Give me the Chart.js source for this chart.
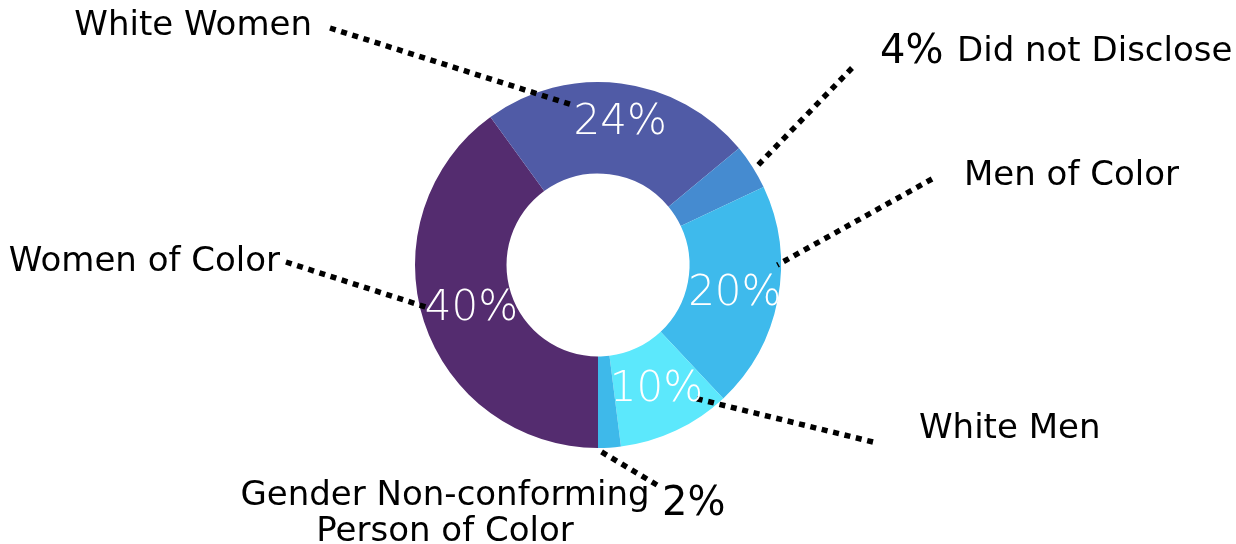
<!DOCTYPE html>
<html>
<head>
<meta charset="utf-8">
<script src="https://cdn.jsdelivr.net/npm/chart.js@4.4.1/dist/chart.umd.min.js"></script>
<style>
  html, body { margin: 0; padding: 0; background: #fff; }
</style>
</head>
<body>
<canvas id="genderChart" width="1236" height="544"></canvas>
<script>
const groups = ['Women of Color', 'White Women', 'Did not Disclose', 'Men of Color', 'White Men', 'Gender Non-conforming Person of Color'];
const shares = [40, 24, 4, 20, 10, 2];
const sliceColors = ['#542c6f', '#505ba6', '#458bd0', '#3ebaec', '#5ce8fc', '#3eb9ea'];
// big percent printed inside the slice, or out by the label for the thin ones
const insidePercent = [true, true, false, true, true, false];
// small nudges of the inside percent from the slice centre
const percentNudge = [[4, 2], [5, -6], [0, 0], [2, 3], [0, 1], [0, 0]];

const FONT = '"DejaVu Sans", sans-serif';

// callouts: where the dotted line touches the slice (t = along the arc, rf = share of outer radius),
// where it ends (offset from centre) and the text pieces (offsets from centre)
const callouts = [
    { t: 0.53, rf: 0.97, end: [-312, -3],
      texts: [{ str: 'Women of Color', dx: -318, dy: -3, align: 'right' }] },
    { t: 0.32, rf: 0.88, end: [-268, -237],
      texts: [{ str: 'White Women', dx: -286, dy: -239, align: 'right' }] },
    { t: 0.55, rf: 1.01, end: [254, -197],
      texts: [{ str: '4%', dx: 282, dy: -212, align: 'left', big: true },
              { str: 'Did not Disclose', dx: 359, dy: -213, align: 'left' }] },
    { t: 0.35, rf: 0.98, end: [334, -86],
      texts: [{ str: 'Men of Color', dx: 366, dy: -89, align: 'left' }] },
    { t: 0.2, rf: 0.9, end: [275, 177],
      texts: [{ str: 'White Men', dx: 321, dy: 164, align: 'left' }] },
    { t: 1.0, rf: 1.01, end: [59, 220],
      texts: [{ str: 'Gender Non-conforming', dx: -153, dy: 231, align: 'center' },
              { str: 'Person of Color', dx: -153, dy: 267, align: 'center' },
              { str: '2%', dx: 64, dy: 240, align: 'left', big: true }] }
];

const calloutPlugin = {
    id: 'callouts',
    afterDatasetsDraw(chart) {
        const ctx = chart.ctx;
        const arcs = chart.getDatasetMeta(0).data;
        const cx = arcs[0].x, cy = arcs[0].y;

        // dotted leader lines
        ctx.save();
        ctx.strokeStyle = '#000';
        ctx.lineWidth = 5.5;
        ctx.setLineDash([6, 5.7]);
        ctx.lineCap = 'butt';
        callouts.forEach((c, i) => {
            const a = arcs[i];
            const ang = a.startAngle + c.t * (a.endAngle - a.startAngle);
            const r = a.outerRadius * c.rf;
            ctx.beginPath();
            ctx.moveTo(cx + c.end[0], cy + c.end[1]);
            ctx.lineTo(a.x + r * Math.cos(ang), a.y + r * Math.sin(ang));
            ctx.stroke();
        });
        ctx.restore();

        // percent labels inside the ring
        ctx.save();
        ctx.fillStyle = '#fff';
        ctx.font = '200 42px ' + FONT;
        ctx.textAlign = 'center';
        ctx.textBaseline = 'middle';
        arcs.forEach((a, i) => {
            if (!insidePercent[i]) return;
            const p = a.getCenterPoint();
            ctx.fillText(shares[i] + '%', p.x + percentNudge[i][0], p.y + percentNudge[i][1]);
        });
        ctx.restore();

        // outside labels
        ctx.save();
        ctx.fillStyle = '#000';
        ctx.textBaseline = 'middle';
        callouts.forEach(c => {
            c.texts.forEach(tx => {
                ctx.font = tx.big ? '400 40px ' + FONT : '400 34px ' + FONT;
                ctx.textAlign = tx.align;
                ctx.fillText(tx.str, cx + tx.dx, cy + tx.dy);
            });
        });
        ctx.restore();
    }
};

new Chart(document.getElementById('genderChart'), {
    type: 'doughnut',
    data: {
        labels: groups,
        datasets: [{
            data: shares,
            backgroundColor: sliceColors,
            borderWidth: 0,
            hoverOffset: 0
        }]
    },
    options: {
        responsive: false,
        animation: false,
        devicePixelRatio: 1,
        rotation: 180,
        cutout: '50%',
        layout: {
            padding: { left: 415, right: 455, top: 82, bottom: 96 }
        },
        plugins: {
            legend: { display: false },
            tooltip: { enabled: false }
        }
    },
    plugins: [calloutPlugin]
});
</script>
</body>
</html>
